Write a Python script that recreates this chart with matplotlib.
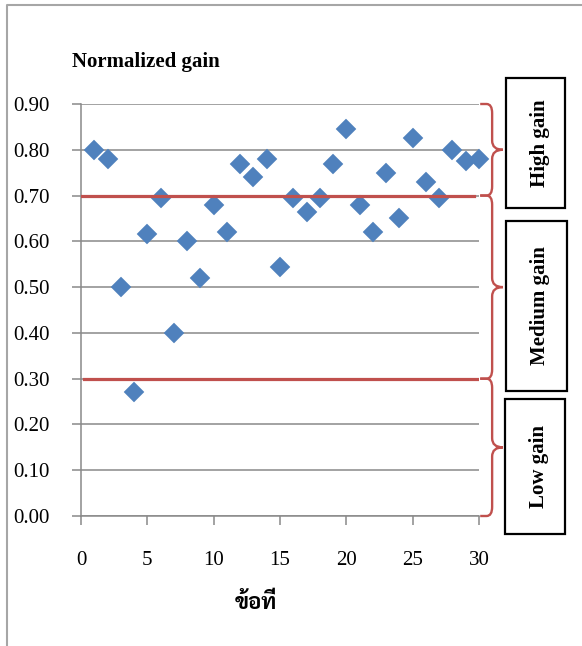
import matplotlib
matplotlib.use("Agg")
import matplotlib.pyplot as plt
from matplotlib.path import Path
from matplotlib.patches import PathPatch, Rectangle
from matplotlib.lines import Line2D
import matplotlib.transforms as mtransforms

# item number vs normalized gain
items = list(range(1, 31))
gain = [0.80, 0.78, 0.50, 0.27, 0.615, 0.695, 0.40, 0.60, 0.52, 0.68,
        0.62, 0.77, 0.74, 0.78, 0.545, 0.695, 0.665, 0.695, 0.77, 0.845,
        0.68, 0.62, 0.75, 0.65, 0.825, 0.73, 0.695, 0.80, 0.775, 0.78]

# gain level bounds (low / medium / high)
levels = ["Low gain", "Medium gain", "High gain"]
bounds = [0.0, 0.3, 0.7, 0.9]

W, H = 582, 646
serif = "Liberation Serif"
thai = ["Sarabun", "Noto Serif Thai", "Athiti", "DejaVu Sans"]
grid_c = "#898989"
red = "#C0504D"
blue = "#4F81BD"

plt.rcParams["font.family"] = serif
fig = plt.figure(figsize=(W / 100, H / 100), dpi=100)

def fx(px):
    return px / W

def fy(py):
    return 1 - py / H

ax = fig.add_axes([fx(81), fy(516), fx(479) - fx(81), fy(104) - fy(516)])

ax.plot(items, gain, "D", color=blue, ms=10.5, mec=blue, mew=0.3, zorder=3, clip_on=False)

# threshold lines (upper one stops short of the brace)
ax.axhline(bounds[2], xmin=0.0, xmax=0.987, color=red, lw=2.3, zorder=4)
ax.axhline(bounds[1], xmin=0.008, xmax=1.0, color=red, lw=2.3, zorder=4)

ax.set_xlim(0, 30)
ax.set_ylim(0, 0.9)
ax.set_xticks(range(0, 31, 5))
ax.set_yticks([i / 10 for i in range(10)])
ax.set_yticklabels([f"{i / 10:.2f}" for i in range(10)])
ax.yaxis.grid(True, color=grid_c, lw=1.1)
ax.set_axisbelow(True)
for s in ["top", "right"]:
    ax.spines[s].set_visible(False)
for s in ["left", "bottom"]:
    ax.spines[s].set_color(grid_c)
    ax.spines[s].set_linewidth(1.1)
ax.tick_params(axis="both", direction="out", color=grid_c, width=1.1, length=6.5,
               labelsize=15)
ax.tick_params(axis="y", pad=16)
ax.tick_params(axis="x", pad=19)

# curly braces next to each gain level
tr = mtransforms.blended_transform_factory(ax.transAxes, ax.transData)
xh, xv, xt = 1.003, 1.033, 1.06
rx, ry = 0.014, 0.02
for y0, y1 in zip(bounds[:-1], bounds[1:]):
    ym = (y0 + y1) / 2
    verts = [(xh, y1), (xv - rx, y1), (xv, y1), (xv, y1 - ry),
             (xv, ym + ry), (xv, ym), (xt, ym), (xv, ym), (xv, ym - ry),
             (xv, y0 + ry), (xv, y0), (xv - rx, y0), (xh, y0)]
    codes = [Path.MOVETO, Path.LINETO, Path.CURVE3, Path.CURVE3,
             Path.LINETO, Path.CURVE3, Path.CURVE3, Path.CURVE3, Path.CURVE3,
             Path.LINETO, Path.CURVE3, Path.CURVE3, Path.LINETO]
    ax.add_patch(PathPatch(Path(verts, codes), fill=False, ec=red, lw=1.7,
                           transform=tr, clip_on=False))

# label boxes (pixel rectangles: left, top, right, bottom)
boxes = {"High gain": (506, 78, 565, 208),
         "Medium gain": (506, 221, 567, 391),
         "Low gain": (505, 399, 565, 534)}
for name in levels[::-1]:
    l, t, r, b = boxes[name]
    fig.add_artist(Rectangle((fx(l), fy(b)), fx(r) - fx(l), fy(t) - fy(b),
                             transform=fig.transFigure, fill=False, ec="black", lw=1.6))
    fig.text(fx((l + r) / 2 + 4), fy((t + b) / 2), name, rotation=90,
             ha="center", va="center", fontsize=15, fontweight="bold")

fig.text(fx(72), fy(62), "Normalized gain", ha="left", va="center",
         fontsize=15, fontweight="bold")
fig.text(fx(256), fy(603), "ข้อที่", ha="center", va="center",
         fontsize=16, fontweight="bold", family=thai)

# chart frame (only left and top edges fall inside the picture)
fig.add_artist(Line2D([fx(7), fx(7), 1.0], [0.0, fy(5), fy(5)],
                      transform=fig.transFigure, color="#A6A6A6", lw=1.5))

fig.savefig("out.png", dpi=100)
